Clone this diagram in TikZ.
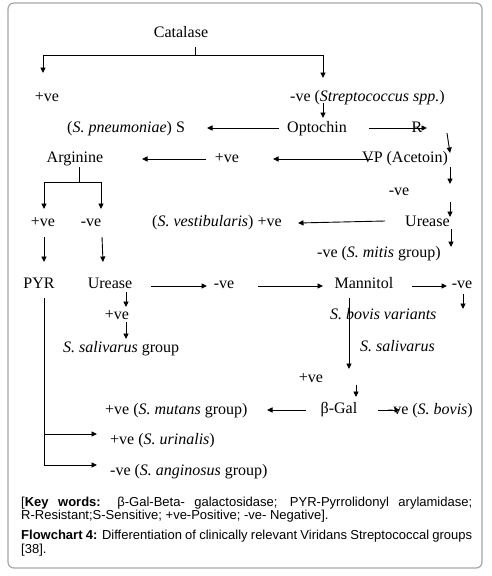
\documentclass[tikz,border=0pt]{standalone}
\usepackage{fontspec}
\setmainfont{Liberation Serif}
\newfontfamily\capfont{Liberation Sans}
\usetikzlibrary{arrows.meta}
\begin{document}
\begin{tikzpicture}[x=1pt,y=-1pt,
  lbl/.style={inner sep=0pt,font=\fontsize{16}{18}\selectfont},
  arr/.style={-{Triangle[length=5.5pt,width=5pt]},line width=0.9pt},
  ln/.style={line width=0.9pt},
  captext/.style={inner sep=0pt,anchor=base west,font=\capfont\fontsize{13}{14}\selectfont}]
\useasboundingbox (0,0) rectangle (492,576);
\draw[gray!70,line width=1.2pt,rounded corners=6pt] (8,3) rectangle (482,568);
% nodes
\node[lbl,anchor=base] (cat) at (181,37) {Catalase};
\node[lbl,anchor=base] (pos1) at (47,101) {+ve};
\node[lbl,anchor=base west] (neg1) at (290,101) {-ve (\textit{Streptococcus spp.})};
\node[lbl,anchor=base] (opt) at (317,132) {Optochin};
\node[lbl,anchor=base west] (spn) at (67,132) {(\textit{S. pneumoniae}) S};
\node[lbl,anchor=base] (R) at (417,132) {R};
\node[lbl,anchor=base west] (vp) at (362,162) {VP (Acetoin)};
\node[lbl,anchor=base] (pos2) at (227,162) {+ve};
\node[lbl,anchor=base] (arg) at (75,162) {Arginine};
\node[lbl,anchor=base] (pos3) at (43,226) {+ve};
\node[lbl,anchor=base] (neg3) at (91,226) {-ve};
\node[lbl,anchor=base] (neg4) at (399,195) {-ve};
\node[lbl,anchor=base west] (ure1) at (405,226) {Urease};
\node[lbl,anchor=base west] (vest) at (152,226) {(\textit{S. vestibularis}) +ve};
\node[lbl,anchor=base west] (mitis) at (317,257) {-ve (\textit{S. mitis} group)};
\node[lbl,anchor=base] (pyr) at (39,288) {PYR};
\node[lbl,anchor=base] (ure2) at (110,288) {Urease};
\node[lbl,anchor=base] (neg5) at (224,288) {-ve};
\node[lbl,anchor=base] (man) at (364,288) {Mannitol};
\node[lbl,anchor=base] (neg6) at (462,288) {-ve};
\node[lbl,anchor=base] (pos4) at (117,319) {+ve};
\node[lbl,anchor=base west] (sal) at (63,352) {\textit{S. salivarus} group};
\node[lbl,anchor=base west] (bovv) at (330,319) {\textit{S. bovis variants}};
\node[lbl,anchor=base west] (salr) at (360,351) {\textit{S. salivarus}};
\node[lbl,anchor=base] (pos5) at (311,382) {+ve};
\node[lbl,anchor=base] (bgal) at (339,413) {β-Gal};
\node[lbl,anchor=base west] (mut) at (105,414) {+ve (\textit{S. mutans} group)};
\node[lbl,anchor=base east] (bov) at (473,414) {-ve (\textit{S. bovis})};
\node[lbl,anchor=base west] (uri) at (110,444) {+ve (\textit{S. urinalis})};
\node[lbl,anchor=base west] (ang) at (110,475) {-ve (\textit{S. anginosus} group)};
% connectors
\draw[ln] ([shift={(14,10)}]cat.base) -- ([shift={(14,18)}]cat.base) coordinate (cj);
\draw[arr] (cj) -| ([shift={(-4,-28)}]pos1.base);
\draw[arr] (cj) -| ([shift={(33,-23)}]neg1.base west);
\draw[arr] ([shift={(33,2)}]neg1.base west) -- ([shift={(6,-14)}]opt.base);
\draw[arr] ([shift={(-38,-4)}]opt.base) -- ([shift={(140,-4)}]spn.base west);
\draw[arr] ([shift={(52,-4)}]opt.base) -- ([shift={(10,-4)}]R.base);
\draw[arr] ([shift={(30,1)}]R.base) -- ([shift={(88,-9)}]vp.base west);
\draw[arr] ([shift={(11,-3)}]vp.base west) -- ([shift={(46,-3)}]pos2.base);
\draw[arr] ([shift={(-21,-3)}]pos2.base) -- ([shift={(67,-3)}]arg.base);
\draw[ln] ([shift={(4,5)}]arg.base) -- ([shift={(4,20)}]arg.base) coordinate (aj);
\draw[arr] (aj) -| ([shift={(1,-17)}]pos3.base);
\draw[arr] (aj) -| ([shift={(10,-17)}]neg3.base);
\draw[arr] ([shift={(1,11)}]pos3.base) -- ([shift={(5,-26)}]pyr.base);
\draw[arr] ([shift={(11,11)}]neg3.base) -- ([shift={(-7,-26)}]ure2.base);
\draw[arr] ([shift={(88,5)}]vp.base west) -- ([shift={(51,-11)}]neg4.base);
\draw[arr] ([shift={(51,7)}]neg4.base) -- ([shift={(45,-9)}]ure1.base west);
\draw[arr] ([shift={(-20,-5)}]ure1.base west) -- ([shift={(146,-3)}]vest.base west);
\draw[arr] ([shift={(46,3)}]ure1.base west) -- ([shift={(134,-10)}]mitis.base west);
\draw[arr] ([shift={(41,-2)}]ure2.base) -- ([shift={(-17,-2)}]neg5.base);
\draw[arr] ([shift={(34,-2)}]neg5.base) -- ([shift={(-41,-2)}]man.base);
\draw[arr] ([shift={(48,-2)}]man.base) -- ([shift={(-15,-2)}]neg6.base);
\draw[arr] ([shift={(1,6)}]neg6.base) -- ([shift={(1,21)}]neg6.base);
\draw[arr] ([shift={(16,4)}]ure2.base) -- ([shift={(9,-12)}]pos4.base);
\draw[arr] ([shift={(9,3)}]pos4.base) -- ([shift={(63,-13)}]sal.base west);
\coordinate (pyrtop) at ([shift={(5,10)}]pyr.base);
\coordinate (urie) at ([shift={(-13,-10)}]uri.base west);
\coordinate (ange) at ([shift={(-13,-10)}]ang.base west);
\draw[arr] (pyrtop) |- (ange);
\draw[arr] (pyrtop |- urie) -- (urie);
\draw[arr] ([shift={(-15,10)}]man.base) -- ([shift={(38,-13)}]pos5.base);
\draw[arr] ([shift={(45,3)}]pos5.base) -- ([shift={(17,-16)}]bgal.base);
\draw[arr] ([shift={(-33,-3)}]bgal.base) -- ([shift={(162,-4)}]mut.base west);
\draw[arr] ([shift={(39,-3)}]bgal.base) -- ([shift={(-73,-4)}]bov.base east);
% caption
\node[captext] (kw1) at (21,506) {\makebox[451pt][s]{[\textbf{Key words:} β-Gal-Beta- galactosidase; PYR-Pyrrolidonyl arylamidase;}};
\node[captext] (kw2) at (21,519) {R-Resistant;S-Sensitive; +ve-Positive; -ve- Negative].};
\node[captext] (fc1) at (21,539) {\makebox[451pt][s]{\textbf{Flowchart 4:} Differentiation of clinically relevant Viridans Streptococcal groups}};
\node[captext] (fc2) at (21,553) {[38].};
\end{tikzpicture}
\end{document}
